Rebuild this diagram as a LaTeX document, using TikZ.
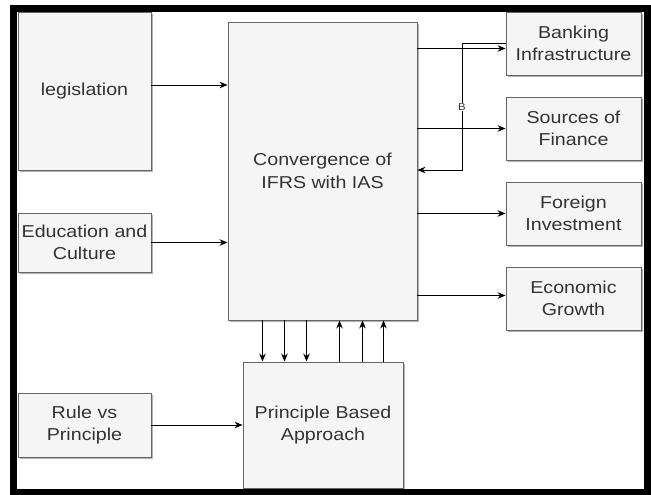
\documentclass[tikz,border=0pt]{standalone}
\usepackage{fontspec}
\setmainfont[FakeStretch=1.14]{Liberation Sans}
\usetikzlibrary{arrows.meta,shadows}
\definecolor{boxfill}{HTML}{F5F5F5}
\definecolor{boxline}{HTML}{666666}
\definecolor{boxtext}{HTML}{333333}

\begin{document}
\begin{tikzpicture}[x=1bp,y=-1bp,
    blockbox/.style={draw=boxline,fill=boxfill,text=boxtext,align=center,inner sep=0pt,line width=0.9bp,
      font=\fontsize{17.3}{22.7}\selectfont,
      drop shadow={shadow xshift=2bp,shadow yshift=-2bp,opacity=0.3,fill=black}},
    link/.style={-{Stealth[length=8bp,width=6.5bp]},line width=0.9bp}]
    \useasboundingbox (0,0) rectangle (651,495);
    % left inputs
    \node[blockbox,minimum width=133bp,minimum height=158bp] (legis) at (84.5,91) {legislation};
    \node[blockbox,minimum width=133bp,minimum height=59bp] (edu) at (84.5,242.5) {Education and\\Culture};
    \node[blockbox,minimum width=133bp,minimum height=64bp] (rule) at (84.5,425) {Rule vs\\Principle};
    % centre
    \node[blockbox,minimum width=189bp,minimum height=298bp] (conv) at (322.5,171) {Convergence of\\IFRS with IAS};
    \node[blockbox,minimum width=160bp,minimum height=126bp] (pba) at (323,425) {Principle Based\\Approach};
    % right outputs
    \node[blockbox,minimum width=135bp,minimum height=63bp] (bank) at (573.5,43.5) {Banking\\Infrastructure};
    \node[blockbox,minimum width=135bp,minimum height=63bp] (src) at (573.5,128.5) {Sources of\\Finance};
    \node[blockbox,minimum width=135bp,minimum height=63bp] (fdi) at (573.5,213.5) {Foreign\\Investment};
    \node[blockbox,minimum width=135bp,minimum height=63bp] (econ) at (573.5,298.5) {Economic\\Growth};
    % connectors
    \draw[link] ([yshift=6bp]legis.east) -- ([yshift=6bp]legis.east -| conv.west);
    \draw[link] (edu.east) -- (edu.east -| conv.west);
    \draw[link] (rule.east) -- (pba.west);
    \draw[link] ([yshift=-5bp]bank.west -| conv.east) -- ([yshift=-5bp]bank.west);
    \draw[link] (src.west -| conv.east) -- (src.west);
    \draw[link] (fdi.west -| conv.east) -- (fdi.west);
    \draw[link] ([yshift=3bp]econ.west -| conv.east) -- ([yshift=3bp]econ.west);
    \coordinate (bturn) at (462,170);
    \draw[link] (bank.west) -| (bturn) -- (conv.east |- bturn);
    \node[fill=white,inner sep=0.5bp,font=\fontsize{10}{12}\selectfont,text=boxtext] (blabel) at (462,107) {B};
    \foreach \dx in {-60,-38,-16}
      \draw[link] ([xshift=\dx bp]conv.south) -- ([xshift=\dx bp]conv.south |- pba.north);
    \foreach \dx in {17,40,61}
      \draw[link] ([xshift=\dx bp]conv.south |- pba.north) -- ([xshift=\dx bp]conv.south);
    % frame
    \draw[line width=7bp] (13.5,9) rectangle (647.5,492);
\end{tikzpicture}
\end{document}
